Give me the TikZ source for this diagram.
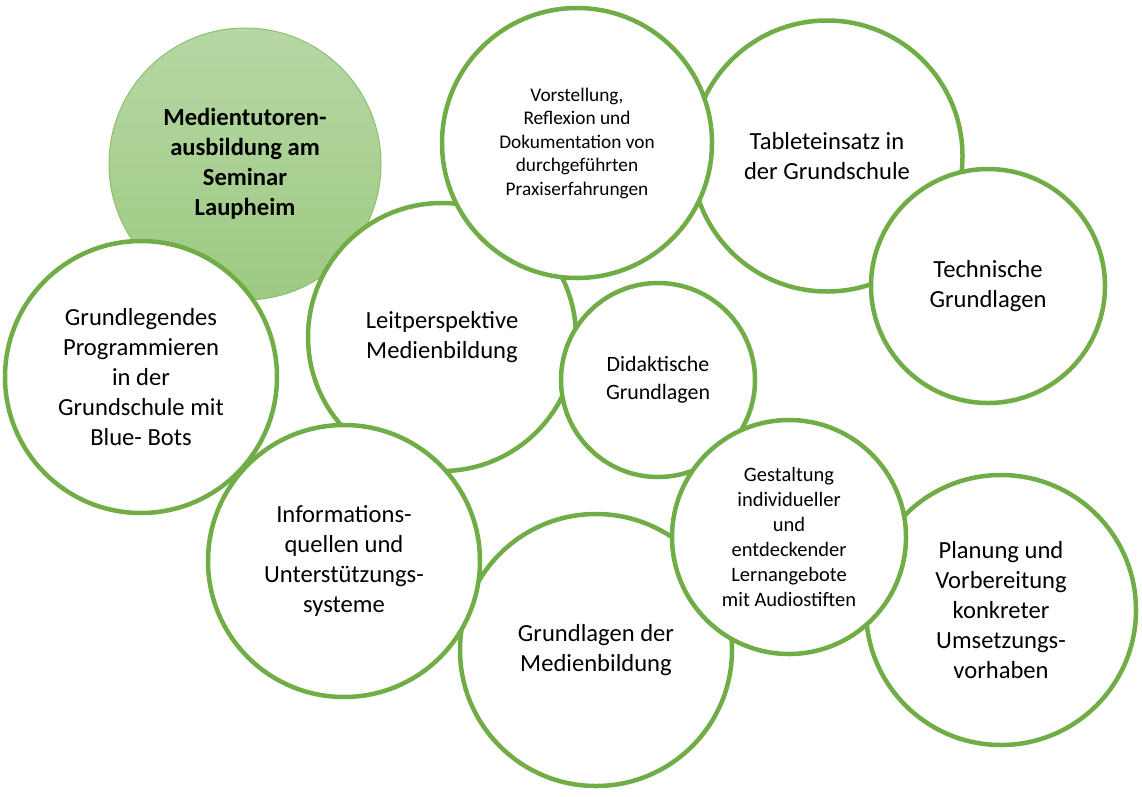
\documentclass[tikz,border=0pt]{standalone}
\usepackage{fontspec}
\setmainfont{Carlito}
\definecolor{ring}{RGB}{112,173,71}
\definecolor{gtop}{RGB}{182,215,164}
\definecolor{gbot}{RGB}{157,202,130}
\definecolor{gedge}{RGB}{140,192,107}
\tikzset{
  bubble/.style={circle, draw=ring, line width=4.5pt, fill=white, inner sep=0pt, align=center, text=black,
    font=\fontsize{24.6}{30}\selectfont},
  hub/.style={circle, draw=gedge, line width=1pt, top color=gtop, bottom color=gbot, inner sep=0pt, align=center,
    font=\bfseries\fontsize{24.6}{30}\selectfont}
}
\begin{document}
\begin{tikzpicture}[x=1pt,y=-1pt]
\useasboundingbox (0,0) rectangle (1142,796);
\node[hub, minimum size=272] (hub) at (245,164) {Medientutoren-\\ausbildung am\\Seminar\\Laupheim};
\node[bubble, minimum size=272] (prog) at (141,377) {Grundlegendes\\Programmieren\\in der\\Grundschule mit\\Blue- Bots};
\node[bubble, minimum size=268] (leit) at (442,337) {Leitperspektive\\Medienbildung};
\node[bubble, minimum size=271] (tab) at (827,156) {Tableteinsatz in\\der Grundschule};
\node[bubble, minimum size=270, font=\fontsize{19.3}{23.5}\selectfont] (vor) at (577,143) {Vorstellung,\\Reflexion und\\Dokumentation von\\durchgeführten\\Praxiserfahrungen};
\node[bubble, minimum size=234] (tech) at (988,286) {Technische\\Grundlagen};
\node[bubble, minimum size=194, font=\fontsize{21.9}{28}\selectfont] (did) at (658,380) {Didaktische\\Grundlagen};
\node[bubble, minimum size=272] (grund) at (596,650) {Grundlagen der\\Medienbildung};
\node[bubble, minimum size=272] (info) at (344,561) {Informations-\\quellen und\\Unterstützungs-\\systeme};
\node[bubble, minimum size=270] (plan) at (1001,610) {Planung und\\Vorbereitung\\konkreter\\Umsetzungs-\\vorhaben};
\node[bubble, minimum size=234, font=\fontsize{20.5}{25}\selectfont] (gest) at (789,537) {Gestaltung\\individueller\\und\\entdeckender\\Lernangebote\\mit Audiostiften};
\end{tikzpicture}
\end{document}
